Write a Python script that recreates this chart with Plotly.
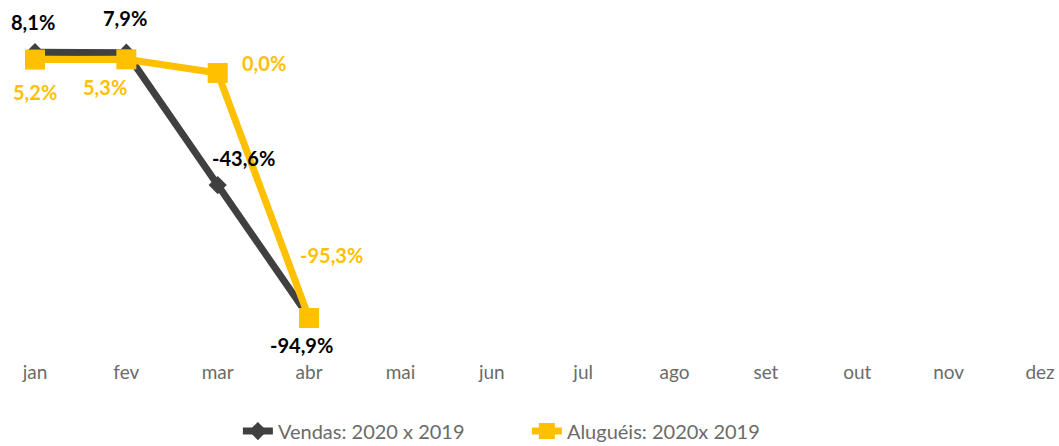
import plotly.graph_objects as go

# Months and monthly variation (%)
months = ['jan', 'fev', 'mar', 'abr', 'mai', 'jun', 'jul', 'ago', 'set', 'out', 'nov', 'dez']
vendas = [8.1, 7.9, -43.6, -94.9]
alugueis = [5.2, 5.3, 0.0, -95.3]

vendas_labels = ['8,1%', '7,9%', '-43,6%', '-94,9%']
alugueis_labels = ['5,2%', '5,3%', '0,0%', '-95,3%']

DARK = '#404040'
GOLD = '#FFC000'
GREY_TEXT = '#6b6b6b'

fig = go.Figure()

fig.add_trace(go.Scatter(
    x=months[:len(vendas)],
    y=vendas,
    name='Vendas: 2020 x 2019',
    mode='lines+markers',
    line=dict(color=DARK, width=7),
    marker=dict(symbol='diamond', size=14, color=DARK)
))

fig.add_trace(go.Scatter(
    x=months[:len(alugueis)],
    y=alugueis,
    name='Aluguéis: 2020x 2019',
    mode='lines+markers',
    line=dict(color=GOLD, width=7),
    marker=dict(symbol='square', size=20, color=GOLD)
))

# label offsets (px) so the labels sit like in the original
vendas_shift = [(-2, 30), (-1, 35), (26, 27), (-8, -28)]
alugueis_shift = [(0, -32), (-21, -28), (46, 10), (22, 63)]

for i, (v, txt) in enumerate(zip(vendas, vendas_labels)):
    fig.add_annotation(x=months[i], y=v, text=txt, showarrow=False,
                       xshift=vendas_shift[i][0], yshift=vendas_shift[i][1],
                       font=dict(color='#000000', size=20, family='Lato', weight='bold'))

for i, (v, txt) in enumerate(zip(alugueis, alugueis_labels)):
    fig.add_annotation(x=months[i], y=v, text=txt, showarrow=False,
                       xshift=alugueis_shift[i][0], yshift=alugueis_shift[i][1],
                       font=dict(color=GOLD, size=20, family='Lato', weight='bold'))

fig.update_layout(
    width=1059,
    height=446,
    margin=dict(l=5, r=5, t=20, b=91, autoexpand=False),
    plot_bgcolor='white',
    paper_bgcolor='white',
    font=dict(family='Lato', size=19, color=GREY_TEXT),
    showlegend=True,
    legend=dict(
        orientation='h',
        xanchor='left',
        x=0.222,
        yanchor='middle',
        y=-0.227,
        font=dict(size=20, color=GREY_TEXT),
        entrywidth=244
    )
)

fig.update_xaxes(
    type='category',
    categoryorder='array',
    categoryarray=months,
    range=[-0.328, 11.153],
    showgrid=False,
    zeroline=False,
    showline=False,
    ticks='',
    ticklabelstandoff=4,
    tickfont=dict(size=19, color=GREY_TEXT)
)

fig.update_yaxes(
    range=[-109.7, 20.6],
    showgrid=False,
    zeroline=False,
    showline=False,
    showticklabels=False
)

# the page's default body margin would shift the figure by 8px
fig.write_html("out.html", config={'displayModeBar': False},
               post_script="document.body.style.margin='0px';")
